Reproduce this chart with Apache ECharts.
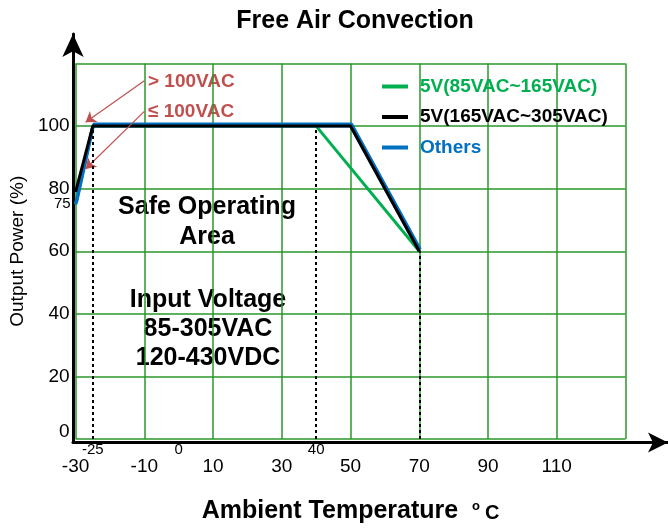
<!DOCTYPE html>
<html>
<head>
<meta charset="utf-8">
<script src="https://cdn.jsdelivr.net/npm/echarts@6/dist/echarts.min.js"></script>
<style>
  html, body { margin: 0; padding: 0; background: #fff; }
  #chart { width: 668px; height: 529px; }
</style>
</head>
<body>
<div id="chart"></div>
<script>
// axis ticks
const xMinor = [-25, 0, 40];
const yMinor = [75];

// derating curves: temperature (°C) -> output power (%)
const greenTemp = [-30, -25, 40, 70];
const greenLoad = [75, 100, 100, 60];
const blackTemp = [-30, -25, 50, 70];
const blackLoad = [79, 100, 100, 60];
const blueTemp = [-30, -25, 50, 70];
const blueLoad = [75, 100, 100, 60];

// dotted guide lines
const guideTemp = [-25, 40, 70];
const guideLoad = [100, 100, 60];

// red pointer arrows (from label to curve)
const arrowFrom = [[-10, 114.5], [-10, 104.7]];
const arrowTo = [[-27.1, 101.2], [-27.1, 86.3]];

const FONT = "'Liberation Sans', Arial, sans-serif";
const GREEN = '#00b050';
const BLUE = '#0070c0';
const RED = '#c0504d';
const GRID_GREEN = '#2a962a';

const zip = (xs, ys) => xs.map((x, i) => [x, ys[i]]);

const chart = echarts.init(document.getElementById('chart'));

const option = {
  animation: false,
  title: {
    text: 'Free Air Convection',
    left: 355,
    top: 9,
    textAlign: 'center',
    padding: 0,
    textStyle: { fontFamily: FONT, fontSize: 25, fontWeight: 'bold', color: '#000' }
  },
  legend: {
    orient: 'vertical',
    left: 382,
    top: 77,
    padding: 0,
    itemGap: 11.5,
    itemWidth: 26,
    itemHeight: 4,
    icon: 'rect',
    textStyle: { fontFamily: FONT, fontSize: 19, fontWeight: 'bold', padding: [0, 0, 0, 7] },
    data: [
      { name: '5V(85VAC~165VAC)', textStyle: { color: GREEN } },
      { name: '5V(165VAC~305VAC)', textStyle: { color: '#000' } },
      { name: 'Others', textStyle: { color: BLUE } }
    ]
  },
  grid: [
    { left: 73, right: 42.5, top: 63.5, bottom: 86.5 },
    // grid only for the arrowed axis lines
    { left: 73, right: 0, top: 34, bottom: 86.5 }
  ],
  xAxis: [
    {
      type: 'value', gridIndex: 0, min: -30, max: 130, interval: 20,
      name: 'Ambient Temperature  {o|o}{c|C}',
      nameLocation: 'middle',
      nameGap: 60,
      nameTextStyle: {
        fontFamily: FONT, fontSize: 25, fontWeight: 'bold', color: '#000',
        rich: {
          o: { fontFamily: FONT, fontSize: 13, fontWeight: 'bold', color: '#000', padding: [0, 5, 10, 0] },
          c: { fontFamily: FONT, fontSize: 20, fontWeight: 'bold', color: '#000', padding: [4, 0, 0, 0] }
        }
      },
      axisLine: { show: false },
      axisTick: { show: false },
      axisLabel: {
        margin: 18, fontFamily: FONT, fontSize: 19, color: '#000',
        formatter: v => (v === 130 ? '' : v)
      },
      splitLine: { show: true, lineStyle: { color: GRID_GREEN, width: 1.5 } }
    },
    {
      type: 'value', gridIndex: 0, min: -30, max: 130, interval: 5, position: 'bottom',
      axisLine: { show: false },
      axisTick: { show: false },
      splitLine: { show: false },
      axisLabel: {
        margin: 3, fontFamily: FONT, fontSize: 15, color: '#000',
        formatter: v => (xMinor.includes(v) ? v : '')
      }
    },
    {
      type: 'value', gridIndex: 1, min: 0, max: 1,
      axisLine: {
        show: true, onZero: false, symbol: ['none', 'arrow'], symbolSize: [15, 20],
        lineStyle: { color: '#000', width: 3 }
      },
      axisTick: { show: false }, axisLabel: { show: false }, splitLine: { show: false }
    }
  ],
  yAxis: [
    {
      type: 'value', gridIndex: 0, min: 0, max: 120, interval: 20,
      name: 'Output Power (%)',
      nameLocation: 'middle',
      nameGap: 46,
      nameTextStyle: { fontFamily: FONT, fontSize: 19, color: '#000' },
      axisLine: { show: false },
      axisTick: { show: false },
      axisLabel: {
        margin: 6, fontFamily: FONT, fontSize: 19, color: '#000',
        formatter: v => (v === 120 ? '' : v === 0 ? '{z|0}' : v),
        rich: { z: { fontFamily: FONT, fontSize: 19, color: '#000', padding: [0, 0, 14, 0] } }
      },
      splitLine: { show: true, lineStyle: { color: GRID_GREEN, width: 1.5 } }
    },
    {
      type: 'value', gridIndex: 0, min: 0, max: 120, interval: 5, position: 'left',
      axisLine: { show: false },
      axisTick: { show: false },
      splitLine: { show: false },
      axisLabel: {
        margin: 5, fontFamily: FONT, fontSize: 15, color: '#000',
        formatter: v => (yMinor.includes(v) ? v : '')
      }
    },
    {
      type: 'value', gridIndex: 1, min: 0, max: 1,
      axisLine: {
        show: true, onZero: false, symbol: ['none', 'arrow'], symbolSize: [16, 23],
        lineStyle: { color: '#000', width: 3 }
      },
      axisTick: { show: false }, axisLabel: { show: false }, splitLine: { show: false }
    }
  ],
  graphic: [
    {
      type: 'text', left: 148, top: 72,
      style: { text: '> 100VAC', fill: RED, font: 'bold 19px ' + FONT }
    },
    {
      type: 'text', left: 148, top: 102,
      style: { text: '≤ 100VAC', fill: RED, font: 'bold 19px ' + FONT }
    },
    {
      type: 'text', x: 207, y: 222,
      style: {
        text: 'Safe Operating\nArea', fill: '#000', font: 'bold 25px ' + FONT,
        align: 'center', verticalAlign: 'middle', lineHeight: 30
      }
    },
    {
      type: 'text', x: 208, y: 329,
      style: {
        text: 'Input Voltage\n85-305VAC\n120-430VDC', fill: '#000', font: 'bold 25px ' + FONT,
        align: 'center', verticalAlign: 'middle', lineHeight: 29
      }
    }
  ],
  series: [
    {
      name: '5V(85VAC~165VAC)', type: 'line', xAxisIndex: 0, yAxisIndex: 0, z: 2,
      showSymbol: false, color: GREEN,
      lineStyle: { color: GREEN, width: 3 },
      data: zip(greenTemp, greenLoad),
      markLine: {
        silent: true,
        symbol: ['none', 'arrow'],
        symbolSize: 10,
        label: { show: false },
        lineStyle: { color: RED, width: 1.2, type: 'solid' },
        data: arrowFrom.map((p, i) => [{ coord: p }, { coord: arrowTo[i] }])
      }
    },
    {
      name: 'Others', type: 'line', xAxisIndex: 0, yAxisIndex: 0, z: 3,
      showSymbol: false, color: BLUE,
      lineStyle: {
        color: BLUE, width: 3,
        shadowColor: BLUE, shadowBlur: 0, shadowOffsetX: 1, shadowOffsetY: -2
      },
      data: zip(blueTemp, blueLoad)
    },
    {
      name: '5V(165VAC~305VAC)', type: 'line', xAxisIndex: 0, yAxisIndex: 0, z: 4,
      showSymbol: false, color: '#000',
      lineStyle: { color: '#000', width: 3 },
      data: zip(blackTemp, blackLoad),
      markLine: {
        silent: true,
        symbol: 'none',
        label: { show: false },
        lineStyle: { color: '#000', width: 2, type: [3, 3] },
        data: guideTemp.map((t, i) => [{ coord: [t, 0] }, { coord: [t, guideLoad[i]] }])
      }
    }
  ]
};

chart.setOption(option);
</script>
</body>
</html>
